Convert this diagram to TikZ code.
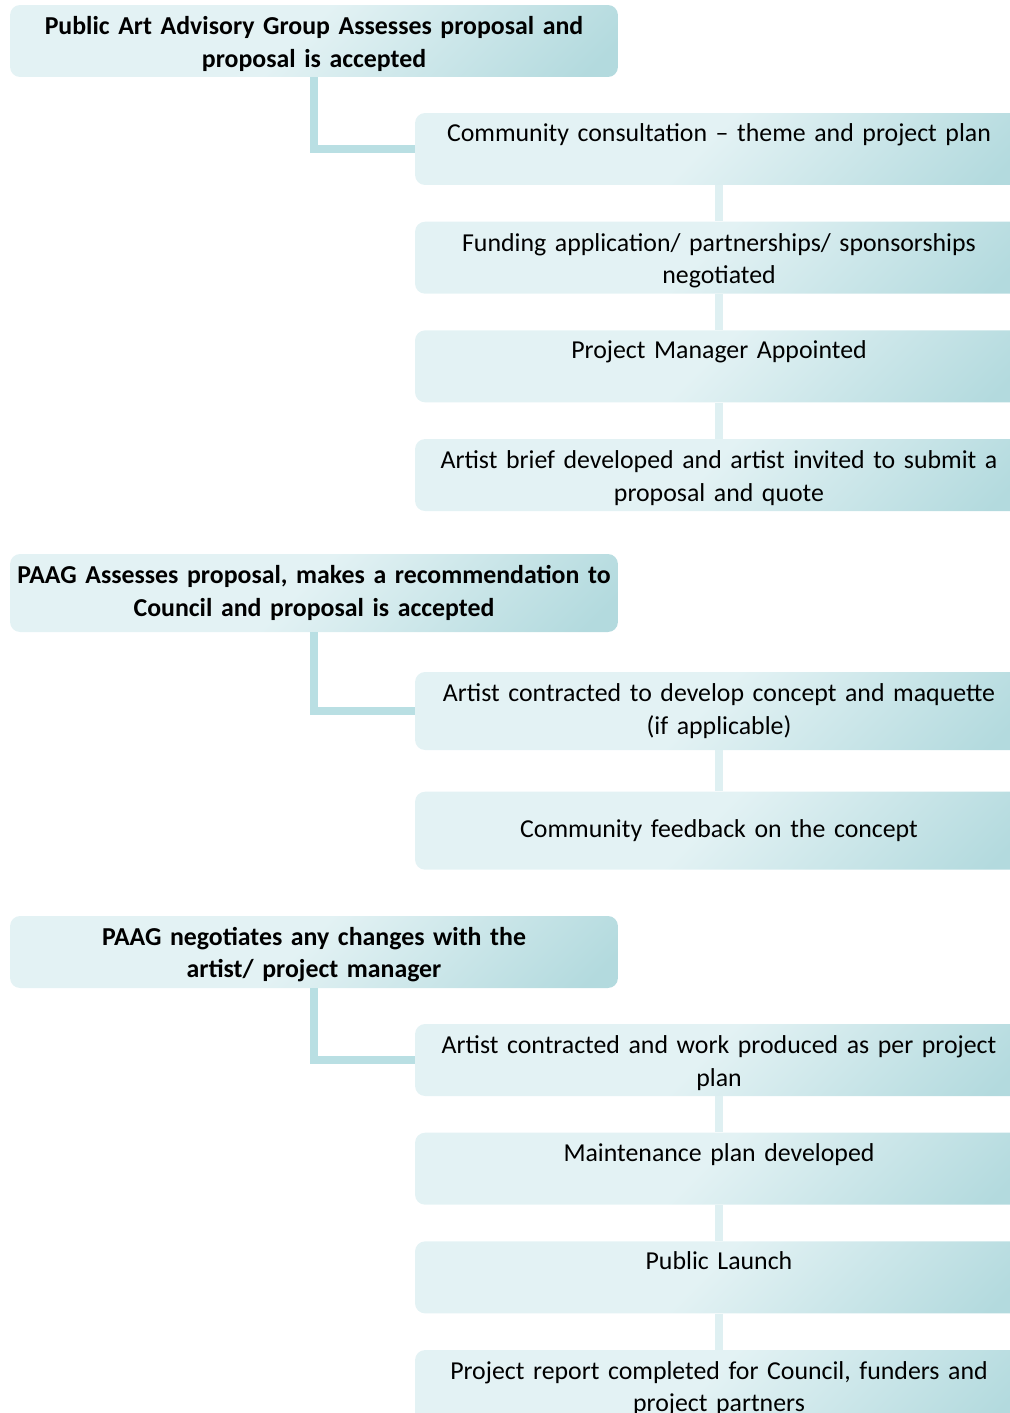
\documentclass[tikz,border=0pt]{standalone}
\usepackage{fontspec}
\setmainfont{Carlito}
\usepackage{tikz}
\usetikzlibrary{positioning}
\definecolor{paaglight}{HTML}{E3F2F4}
\definecolor{paagdark}{HTML}{B3DADE}
\definecolor{paagline}{HTML}{B9DFE3}
\definecolor{paagpale}{HTML}{DFF0F2}
\pgfdeclareverticalshading{paagfade}{100bp}{color(0bp)=(paagdark); color(18bp)=(paagdark);
  color(52bp)=(paaglight); color(100bp)=(paaglight)}
\def\paagstrut{13.5pt}

\begin{document}
\begin{tikzpicture}[
    x=0.02cm, y=-0.02cm,
    cell/.style={rounded corners=0.2cm, shade, shading=paagfade, shading angle=45,
                minimum width=12.16cm, minimum height=1.44cm,
                text width=12.16cm, align=center, inner sep=0pt,
                font=\fontsize{14.7}{18.5}\selectfont},
    box/.style={cell, execute at begin node={\rule{0pt}{\paagstrut}}},
    board/.style={box, font=\fontsize{14.7}{18.5}\selectfont\bfseries},
    tall/.style={minimum height=1.56cm, /utils/exec={\def\paagstrut{10pt}}},
    bracket/.style={draw=paagline, line width=4.4pt},
    chain/.style={draw=paagpale, line width=4.4pt},
    node distance=0.72cm
]
\clip (0,0) rectangle (1010,1413);
\useasboundingbox (0,0) rectangle (1010,1413);

% first stage
\node[board] (b1) at (314,41) {Public Art Advisory Group Assesses proposal and\\proposal is accepted};
\node[box] (r1) at (719,149) {Community consultation -- theme and project plan\\[3.5pt]\mbox{}};
\node[box, below=of r1] (r2) {Funding application/ partnerships/ sponsorships\\negotiated};
\node[box, below=of r2] (r3) {Project Manager Appointed\\[3.5pt]\mbox{}};
\node[box, below=of r3] (r4) {Artist brief developed and artist invited to submit a\\proposal and quote};

% second stage
\node[board, tall] (b2) at (314,593) {PAAG Assesses proposal, makes a recommendation to\\Council and proposal is accepted};
\node[box, tall] (r5) at (719,711) {Artist contracted to develop concept and maquette\\(if applicable)};
\node[cell, tall, below=0.82cm of r5] (r6) {Community feedback on the concept};

% third stage
\node[board] (b3) at (314,952) {PAAG negotiates any changes with the\\artist/ project manager};
\node[box] (r7) at (719,1060) {Artist contracted and work produced as per project\\plan};
\node[box, below=of r7] (r8) {Maintenance plan developed\\[3.5pt]\mbox{}};
\node[box, below=of r8] (r9) {Public Launch\\[3.5pt]\mbox{}};
\node[box, below=of r9] (r10) {Project report completed for Council, funders and\\project partners};

\draw[bracket] (b1.south) |- (r1.west);
\draw[bracket] (b2.south) |- (r5.west);
\draw[bracket] (b3.south) |- (r7.west);

\draw[chain] (r1) -- (r2);
\draw[chain] (r2) -- (r3);
\draw[chain] (r3) -- (r4);
\draw[chain] (r5) -- (r6);
\draw[chain] (r7) -- (r8);
\draw[chain] (r8) -- (r9);
\draw[chain] (r9) -- (r10);
\end{tikzpicture}
\end{document}
